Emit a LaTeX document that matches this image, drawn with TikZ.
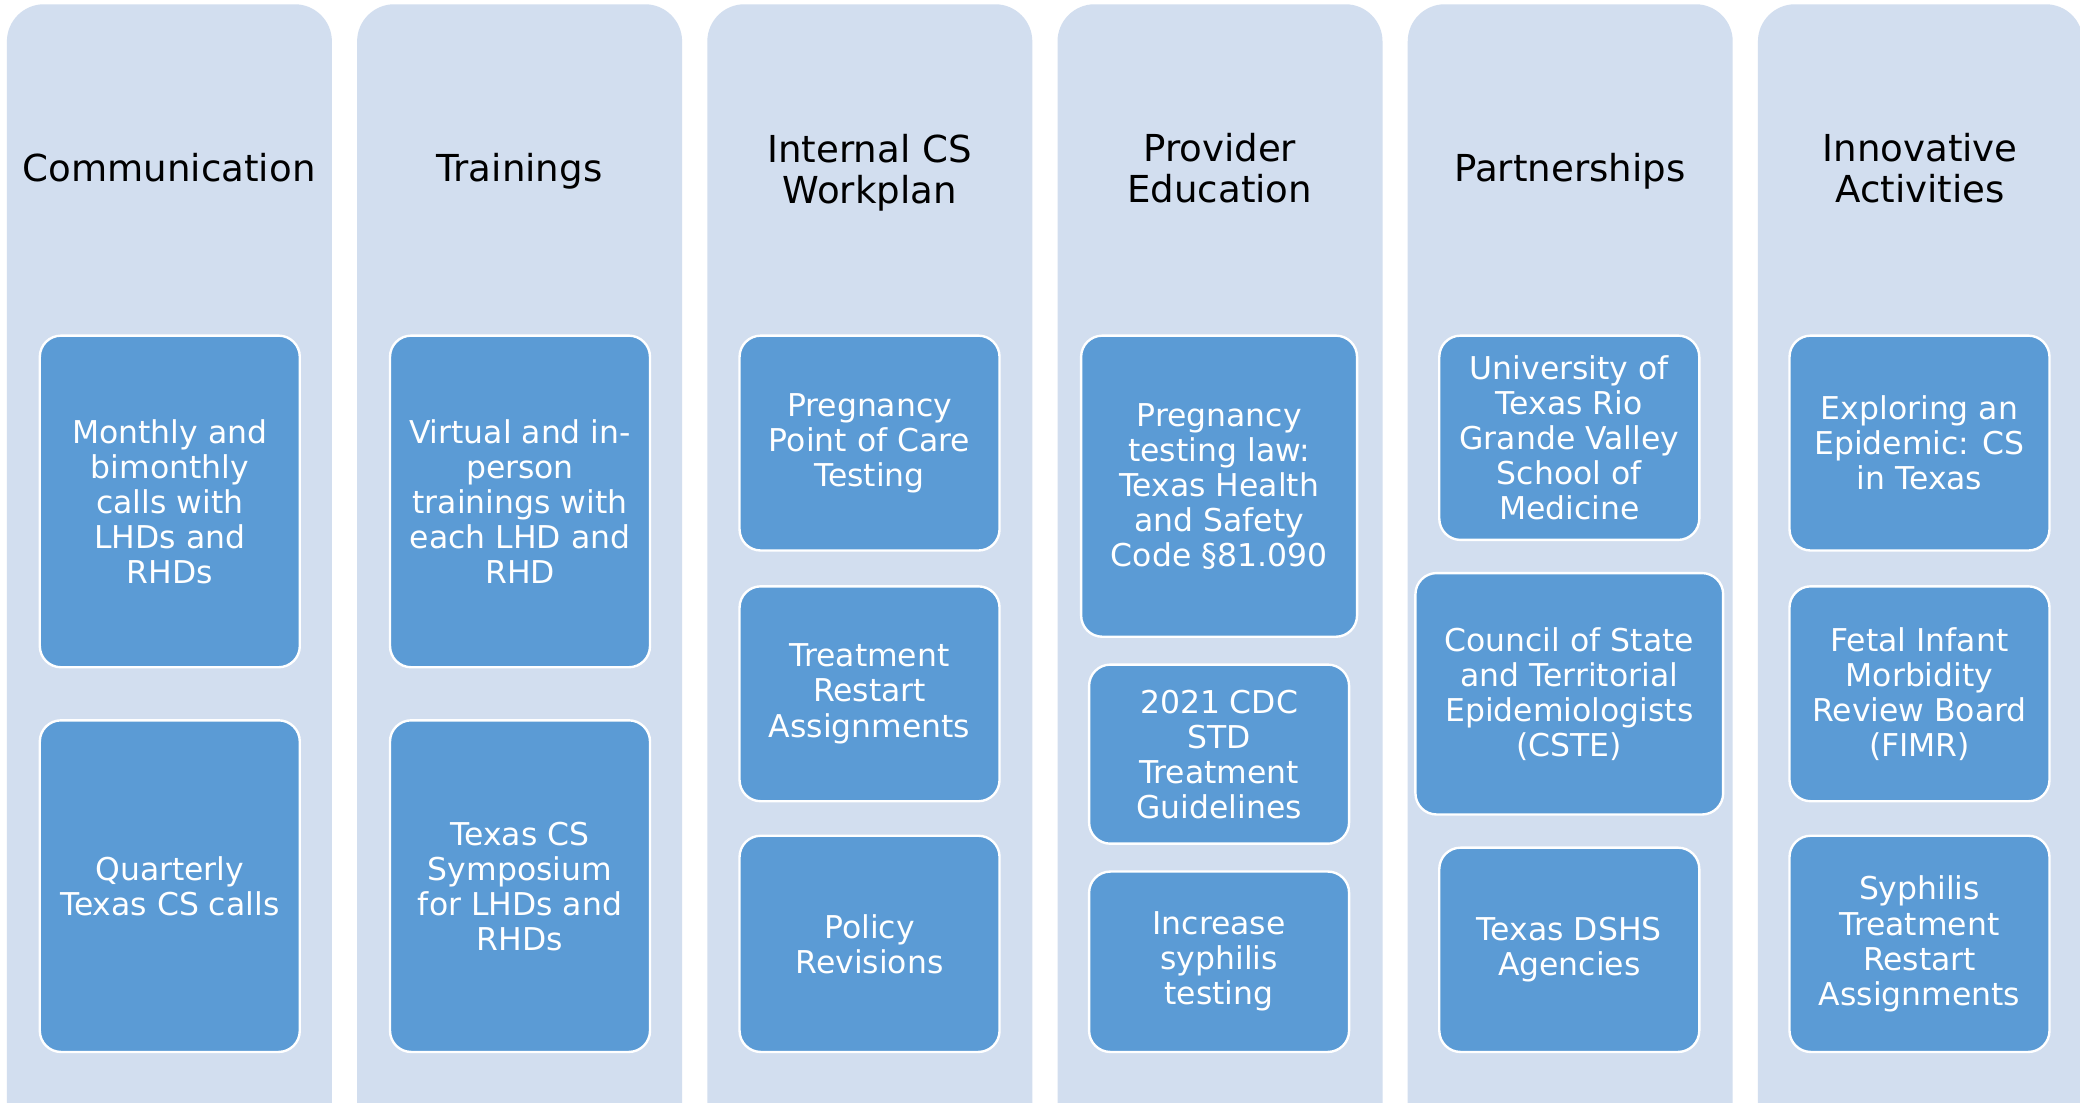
\documentclass[tikz,border=0pt]{standalone}
\usepackage{fontspec}
\setmainfont{DejaVu Sans}
\definecolor{colbg}{RGB}{210,222,239}
\definecolor{itembg}{RGB}{91,155,213}
\begin{document}
\begin{tikzpicture}[x=1pt,y=-1pt,
  colbox/.style={fill=colbg, rounded corners=28pt, inner sep=0pt,
    minimum width=245pt, minimum height=900pt, anchor=north west},
  coltitle/.style={text=black, align=center, inner sep=0pt,
    font=\fontsize{28}{31}\selectfont},
  item/.style={fill=itembg, draw=white, line width=1.8pt, rounded corners=16pt,
    text=white, align=center, inner sep=0pt, minimum width=196pt,
    font=\fontsize{23.7}{26.4}\selectfont}]
\useasboundingbox (0,0) rectangle (1568,831);
\fill[white] (0,0) rectangle (1568,831);

% columns
\node[colbox] (col1) at (5,3) {};
\node[colbox] (col2) at (269,3) {};
\node[colbox] (col3) at (533,3) {};
\node[colbox] (col4) at (797,3) {};
\node[colbox] (col5) at (1061,3) {};
\node[colbox] (col6) at (1325,3) {};

% column headings (single lines set on a common baseline)
\node[coltitle, anchor=base] (t1) at (127.5,137) {Communication};
\node[coltitle, anchor=base] (t2) at (391.5,137) {Trainings};
\node[coltitle] (t3) at (655.5,130) {Internal CS\\Workplan};
\node[coltitle] (t4) at (919.5,127) {Provider\\Education};
\node[coltitle, anchor=base] (t5) at (1183.5,137) {Partnerships};
\node[coltitle] (t6) at (1447.5,127) {Innovative\\Activities};

% Communication
\node[item, minimum height=250pt] (c1a) at (128,378) {Monthly and\\bimonthly\\calls with\\LHDs and\\RHDs};
\node[item, minimum height=250pt] (c1b) at (128,668) {Quarterly\\Texas CS calls};

% Trainings
\node[item, minimum height=250pt] (c2a) at (392,378) {Virtual and in-\\person\\trainings with\\each LHD and\\RHD};
\node[item, minimum height=250pt] (c2b) at (392,668) {Texas CS\\Symposium\\for LHDs and\\RHDs};

% Internal CS Workplan
\node[item, minimum height=162pt] (c3a) at (655.5,334) {Pregnancy\\Point of Care\\Testing};
\node[item, minimum height=162pt] (c3b) at (655.5,523) {Treatment\\Restart\\Assignments};
\node[item, minimum height=163pt] (c3c) at (655.5,711.5) {Policy\\Revisions};

% Provider Education
\node[item, minimum width=208pt, minimum height=227pt] (c4a) at (919,366.5) {Pregnancy\\testing law:\\Texas Health\\and Safety\\Code §81.090};
\node[item, minimum height=135pt] (c4b) at (919,568.5) {2021 CDC\\STD\\Treatment\\Guidelines};
\node[item, minimum height=136pt] (c4c) at (919,725) {Increase\\syphilis\\testing};

% Partnerships
\node[item, minimum height=154pt] (c5a) at (1183,330) {University of\\Texas Rio\\Grande Valley\\School of\\Medicine};
\node[item, minimum width=232pt, minimum height=182pt] (c5b) at (1183,523) {Council of State\\and Territorial\\Epidemiologists\\(CSTE)};
\node[item, minimum height=154pt] (c5c) at (1183,716) {Texas DSHS\\Agencies};

% Innovative Activities
\node[item, minimum height=162pt] (c6a) at (1447,334) {Exploring an\\Epidemic: CS\\in Texas};
\node[item, minimum height=162pt] (c6b) at (1447,523) {Fetal Infant\\Morbidity\\Review Board\\(FIMR)};
\node[item, minimum height=163pt] (c6c) at (1447,711.5) {Syphilis\\Treatment\\Restart\\Assignments};
\end{tikzpicture}
\end{document}
